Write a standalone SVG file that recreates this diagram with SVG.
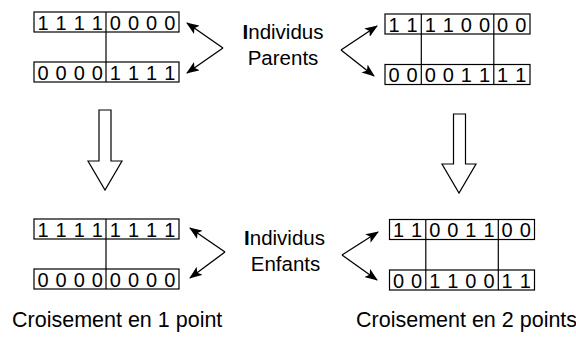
<svg xmlns="http://www.w3.org/2000/svg" width="576" height="345" viewBox="0 0 576 345">
<defs>
<style>
.box{fill:none;stroke:#000;stroke-width:1.2}
.ln{stroke:#000;stroke-width:1.2;fill:none}
.bit{font-family:"Liberation Sans",Arial,sans-serif;font-size:20px;fill:#000;text-anchor:middle}
.lbl{font-family:"Liberation Sans",Arial,sans-serif;font-size:20.5px;fill:#000;text-anchor:middle}
.cap{font-family:"Liberation Sans",Arial,sans-serif;font-size:21.5px;fill:#000}
.conn{stroke:#000;stroke-width:1.3;fill:none;marker-end:url(#ah)}
.blk{fill:#fff;stroke:#000;stroke-width:1.2}
</style>
<marker id="ah" viewBox="0 0 13 10" refX="12" refY="5" markerWidth="13" markerHeight="10" markerUnits="userSpaceOnUse" orient="auto">
<path d="M0,0 L13,5 L0,10 L3,5 Z" fill="#000"/>
</marker>
</defs>
<rect width="576" height="345" fill="#fff"/>

<g id="parents-1pt">
<rect class="box" x="34" y="12" width="145" height="20"/>
<line class="ln" x1="106" y1="12" x2="106" y2="32"/>
<g class="bit"><text x="43" y="29.5">1</text><text x="61.1" y="29.5">1</text><text x="79.2" y="29.5">1</text><text x="97.3" y="29.5">1</text><text x="115.4" y="29.5">0</text><text x="133.5" y="29.5">0</text><text x="151.6" y="29.5">0</text><text x="169.7" y="29.5">0</text></g>
<rect class="box" x="34" y="62" width="145" height="20"/>
<line class="ln" x1="106" y1="62" x2="106" y2="82"/>
<g class="bit"><text x="43" y="79.5">0</text><text x="61.1" y="79.5">0</text><text x="79.2" y="79.5">0</text><text x="97.3" y="79.5">0</text><text x="115.4" y="79.5">1</text><text x="133.5" y="79.5">1</text><text x="151.6" y="79.5">1</text><text x="169.7" y="79.5">1</text></g>
<line class="ln" x1="106" y1="32" x2="106" y2="62"/>
</g>

<g id="parents-2pt">
<rect class="box" x="385" y="14" width="145" height="20"/>
<line class="ln" x1="421.3" y1="14" x2="421.3" y2="34"/>
<line class="ln" x1="493.8" y1="14" x2="493.8" y2="34"/>
<g class="bit"><text x="394" y="31.5">1</text><text x="412.1" y="31.5">1</text><text x="430.2" y="31.5">1</text><text x="448.3" y="31.5">1</text><text x="466.4" y="31.5">0</text><text x="484.5" y="31.5">0</text><text x="502.6" y="31.5">0</text><text x="520.7" y="31.5">0</text></g>
<rect class="box" x="385" y="64.5" width="145" height="20"/>
<line class="ln" x1="421.3" y1="64.5" x2="421.3" y2="84.5"/>
<line class="ln" x1="493.8" y1="64.5" x2="493.8" y2="84.5"/>
<g class="bit"><text x="394" y="82">0</text><text x="412.1" y="82">0</text><text x="430.2" y="82">0</text><text x="448.3" y="82">0</text><text x="466.4" y="82">1</text><text x="484.5" y="82">1</text><text x="502.6" y="82">1</text><text x="520.7" y="82">1</text></g>
<line class="ln" x1="421.3" y1="34" x2="421.3" y2="64.5"/>
<line class="ln" x1="493.8" y1="34" x2="493.8" y2="64.5"/>
</g>

<g id="enfants-1pt">
<rect class="box" x="34" y="219" width="145" height="20"/>
<line class="ln" x1="106" y1="219" x2="106" y2="239"/>
<g class="bit"><text x="43" y="236.5">1</text><text x="61.1" y="236.5">1</text><text x="79.2" y="236.5">1</text><text x="97.3" y="236.5">1</text><text x="115.4" y="236.5">1</text><text x="133.5" y="236.5">1</text><text x="151.6" y="236.5">1</text><text x="169.7" y="236.5">1</text></g>
<rect class="box" x="34" y="269" width="145" height="20"/>
<line class="ln" x1="106" y1="269" x2="106" y2="289"/>
<g class="bit"><text x="43" y="286.5">0</text><text x="61.1" y="286.5">0</text><text x="79.2" y="286.5">0</text><text x="97.3" y="286.5">0</text><text x="115.4" y="286.5">0</text><text x="133.5" y="286.5">0</text><text x="151.6" y="286.5">0</text><text x="169.7" y="286.5">0</text></g>
<line class="ln" x1="106" y1="239" x2="106" y2="269"/>
</g>

<g id="enfants-2pt">
<rect class="box" x="389.5" y="219.5" width="145" height="20"/>
<line class="ln" x1="425.8" y1="219.5" x2="425.8" y2="239.5"/>
<line class="ln" x1="498.3" y1="219.5" x2="498.3" y2="239.5"/>
<g class="bit"><text x="398.5" y="237">1</text><text x="416.6" y="237">1</text><text x="434.7" y="237">0</text><text x="452.8" y="237">0</text><text x="470.9" y="237">1</text><text x="489" y="237">1</text><text x="507.1" y="237">0</text><text x="525.2" y="237">0</text></g>
<rect class="box" x="389.5" y="270" width="145" height="20"/>
<line class="ln" x1="425.8" y1="270" x2="425.8" y2="290"/>
<line class="ln" x1="498.3" y1="270" x2="498.3" y2="290"/>
<g class="bit"><text x="398.5" y="287.5">0</text><text x="416.6" y="287.5">0</text><text x="434.7" y="287.5">1</text><text x="452.8" y="287.5">1</text><text x="470.9" y="287.5">0</text><text x="489" y="287.5">0</text><text x="507.1" y="287.5">1</text><text x="525.2" y="287.5">1</text></g>
<line class="ln" x1="425.8" y1="239.5" x2="425.8" y2="270"/>
<line class="ln" x1="498.3" y1="239.5" x2="498.3" y2="270"/>
</g>

<g id="label-parents">
<text class="lbl" x="283" y="39"><tspan font-weight="bold">I</tspan>ndividus</text>
<text class="lbl" x="283" y="65">Parents</text>
</g>
<g id="label-enfants">
<text class="lbl" x="284.5" y="244.5"><tspan font-weight="bold">I</tspan>ndividus</text>
<text class="lbl" x="285.5" y="271">Enfants</text>
</g>

<g id="arrow-left">
<polygon class="blk" points="99,110 111,110 111,161 122,161 105,190 88,161 99,161"/>
</g>
<g id="arrow-right">
<polygon class="blk" points="453.5,114 465.5,114 465.5,164 476,164 459,193 442,164 453.5,164"/>
</g>

<g id="connectors">
<path class="conn" d="M223,48 L187,23"/>
<path class="conn" d="M223,48 L187,73"/>
<path class="conn" d="M341,50 L377,26"/>
<path class="conn" d="M341,50 L374,76"/>
<path class="conn" d="M225,252 L190,228"/>
<path class="conn" d="M225,252 L190,278"/>
<path class="conn" d="M342,255 L378,232"/>
<path class="conn" d="M342,255 L377,280"/>
</g>

<g id="captions">
<text class="cap" x="12" y="327">Croisement en 1 point</text>
<text class="cap" x="356" y="327">Croisement en 2 points</text>
</g>
</svg>
